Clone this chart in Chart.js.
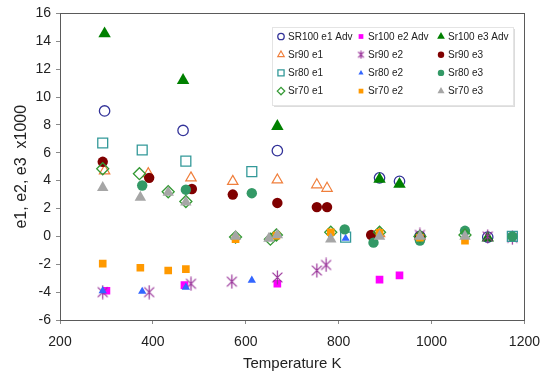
<!DOCTYPE html>
<html>
<head>
<meta charset="utf-8">
<script src="https://cdn.jsdelivr.net/npm/chart.js@4.4.1/dist/chart.umd.min.js"></script>
<style>
  html, body { margin: 0; padding: 0; background: #fff; }
  #wrap { width: 550px; height: 380px; }
</style>
</head>
<body>
<div id="wrap"><canvas id="chart" width="550" height="380"></canvas></div>
<script>
// Series labels (legend is 4 rows x 3 columns)
const seriesNames = [
  'SR100 e1 Adv', 'Sr100 e2 Adv', 'Sr100 e3 Adv',
  'Sr90 e1', 'Sr90 e2', 'Sr90 e3',
  'Sr80 e1', 'Sr80 e2', 'Sr80 e3',
  'Sr70 e1', 'Sr70 e2', 'Sr70 e3'
];

// Temperatures (K) and strain values (x1000)
const sr100e1T = [296, 465, 668, 888, 931, 975, 1121];
const sr100e1V = [9.0, 7.6, 6.15, 4.2, 3.95, 0.0, -0.05];
const sr100e2T = [300, 468, 668, 888, 931];
const sr100e2V = [-3.9, -3.5, -3.4, -3.1, -2.8];
const sr100e3T = [296, 465, 668, 888, 931, 1121];
const sr100e3V = [14.55, 11.2, 7.9, 4.1, 3.75, -0.1];

const sr90e1T = [296, 390, 482, 572, 668, 753, 775, 888, 975];
const sr90e1V = [4.7, 4.5, 4.2, 3.95, 4.05, 3.7, 3.45, 0.2, 0.0];
const sr90e2T = [292, 392, 482, 570, 668, 753, 773, 975, 1121, 1174];
const sr90e2V = [-4.0, -4.0, -3.4, -3.25, -2.95, -2.45, -2.05, 0.1, 0.0, -0.1];
const sr90e3T = [292, 392, 484, 572, 668, 753, 775, 870, 975];
const sr90e3V = [5.35, 4.2, 3.4, 3.0, 2.4, 2.1, 2.1, 0.1, 0.0];

const sr80e1T = [292, 377, 471, 613, 815, 1174];
const sr80e1V = [6.7, 6.2, 5.4, 4.65, -0.05, 0.0];
const sr80e2T = [292, 377, 471, 613, 815];
const sr80e2V = [-3.9, -3.95, -3.65, -3.15, -0.15];
const sr80e3T = [377, 471, 613, 813, 875, 975, 1072, 1174];
const sr80e3V = [3.65, 3.35, 3.1, 0.5, -0.45, -0.3, 0.4, 0.0];

const sr70e1T = [292, 371, 433, 471, 578, 653, 666, 783, 888, 975, 1072];
const sr70e1V = [4.85, 4.5, 3.2, 2.5, -0.05, -0.2, 0.1, 0.3, 0.3, 0.0, 0.1];
const sr70e2T = [292, 373, 433, 471, 578, 666, 783, 888, 975, 1072];
const sr70e2V = [-1.95, -2.25, -2.45, -2.35, -0.2, 0.05, 0.3, 0.25, -0.1, -0.3];
const sr70e3T = [292, 373, 433, 471, 578, 650, 668, 783, 888, 975, 1072];
const sr70e3V = [3.5, 2.8, 3.15, 2.45, 0.0, -0.15, 0.1, -0.2, 0.0, 0.0, 0.0];

const seriesT = [sr100e1T, sr100e2T, sr100e3T, sr90e1T, sr90e2T, sr90e3T,
                 sr80e1T, sr80e2T, sr80e3T, sr70e1T, sr70e2T, sr70e3T];
const seriesV = [sr100e1V, sr100e2V, sr100e3V, sr90e1V, sr90e2V, sr90e3V,
                 sr80e1V, sr80e2V, sr80e3V, sr70e1V, sr70e2V, sr70e3V];

// Axis ranges
const xMin = 200, xMax = 1200, xStep = 200;
const yMin = -6, yMax = 16, yStep = 2;

// asterisk marker (Excel-like "*")
function makeAsterisk(color, size) {
  const c = document.createElement('canvas');
  c.width = size; c.height = size;
  const g = c.getContext('2d');
  g.strokeStyle = color;
  g.lineWidth = 1.2;
  const m = size / 2, r = size / 2 - 0.5;
  g.beginPath();
  [Math.PI / 2, Math.PI / 4, -Math.PI / 4].forEach(a => {
    g.moveTo(m + r * Math.cos(a), m + r * Math.sin(a));
    g.lineTo(m - r * Math.cos(a), m - r * Math.sin(a));
  });
  g.stroke();
  return c;
}

// marker look per series
const NONE = 'rgba(0,0,0,0)';
const styles = [
  { pointStyle: 'circle',   radius: 5.2, border: '#333399', fill: NONE,      bw: 1.3 },
  { pointStyle: 'rect',     radius: 5.4, border: '#FF00FF', fill: '#FF00FF', bw: 0 },
  { pointStyle: 'triangle', radius: 7.2, border: '#008000', fill: '#008000', bw: 0 },
  { pointStyle: 'triangle', radius: 6,   border: '#F07F3C', fill: NONE,      bw: 1.2 },
  { pointStyle: makeAsterisk('#993399', 15), radius: 7, border: '#993399', fill: '#993399', bw: 0, legendImg: makeAsterisk('#993399', 9) },
  { pointStyle: 'circle',   radius: 5.2, border: '#800000', fill: '#800000', bw: 0 },
  { pointStyle: 'rect',     radius: 7,   border: '#339999', fill: NONE,      bw: 1.3 },
  { pointStyle: 'triangle', radius: 4.8, border: '#3366FF', fill: '#3366FF', bw: 0 },
  { pointStyle: 'circle',   radius: 5.2, border: '#339966', fill: '#339966', bw: 0 },
  { pointStyle: 'rectRot',  radius: 6,   border: '#339933', fill: NONE,      bw: 1.3 },
  { pointStyle: 'rect',     radius: 5.4, border: '#FF9900', fill: '#FF9900', bw: 0 },
  { pointStyle: 'triangle', radius: 6.6, border: '#A6A6A6', fill: '#A6A6A6', bw: 0 }
];

const datasets = seriesNames.map((name, i) => ({
  label: name,
  data: seriesT[i].map((t, k) => ({ x: t, y: seriesV[i][k] })),
  pointStyle: styles[i].pointStyle,
  pointRadius: styles[i].radius,
  pointBorderColor: styles[i].border,
  pointBackgroundColor: styles[i].fill,
  pointBorderWidth: styles[i].bw,
  borderColor: styles[i].border,
  backgroundColor: styles[i].fill,
  showLine: false,
  order: seriesNames.length - i  // later series on top, like Excel
}));

// frame round the plot area
const frame = {
  id: 'frame',
  afterDatasetsDraw(chart) {
    const { ctx, chartArea: a } = chart;
    ctx.save();
    ctx.strokeStyle = '#5a5a5a';
    ctx.lineWidth = 1;
    ctx.strokeRect(Math.round(a.left) + 0.5, Math.round(a.top) + 0.5,
                   Math.round(a.right - a.left), Math.round(a.bottom - a.top));
    ctx.restore();
  }
};

// 3-column boxed legend
const gridLegend = {
  id: 'gridLegend',
  afterDraw(chart) {
    const ctx = chart.ctx;
    const box = { l: 272, t: 27, r: 513, b: 105 };
    ctx.save();
    ctx.fillStyle = '#dcdcdc';
    ctx.fillRect(box.l + 2, box.t + 2, box.r - box.l, box.b - box.t);
    ctx.fillStyle = '#fff';
    ctx.fillRect(box.l, box.t, box.r - box.l, box.b - box.t);
    ctx.strokeStyle = '#e4e4e4';
    ctx.lineWidth = 1;
    ctx.strokeRect(box.l + 0.5, box.t + 0.5, box.r - box.l, box.b - box.t);

    ctx.font = '10px Arial, "Liberation Sans", sans-serif';
    ctx.textBaseline = 'middle';
    ctx.textAlign = 'left';
    chart.data.datasets.forEach((ds, i) => {
      const row = Math.floor(i / 3), col = i % 3;
      const mx = 281 + col * 80, my = 36.5 + row * 18.2;
      const st = styles[i];
      ctx.fillStyle = st.fill;
      ctx.strokeStyle = st.border;
      ctx.lineWidth = st.bw;
      Chart.helpers.drawPoint(ctx, {
        pointStyle: st.legendImg || st.pointStyle,
        radius: st.radius * 0.62,
        borderWidth: st.bw,
        rotation: 0
      }, mx, my);
      ctx.fillStyle = '#222';
      ctx.fillText(ds.label, mx + 7, my + 0.5);
    });
    ctx.restore();
  }
};

const tickFont = { family: 'Arial, "Liberation Sans", sans-serif', size: 14 };
const titleFont = { family: 'Arial, "Liberation Sans", sans-serif', size: 16 };
const plainTick = v => String(v);

new Chart(document.getElementById('chart'), {
  type: 'scatter',
  data: { datasets },
  options: {
    responsive: false,
    animation: false,
    layout: { padding: { top: 13, right: 22, left: 0, bottom: 0 } },
    plugins: { legend: { display: false }, tooltip: { enabled: false } },
    scales: {
      x: {
        type: 'linear', min: xMin, max: xMax,
        ticks: { stepSize: xStep, font: tickFont, color: '#222', padding: 10, callback: plainTick },
        grid: { drawOnChartArea: false, drawTicks: true, tickLength: 4, color: '#8a8a8a' },
        border: { color: '#5a5a5a' },
        title: { display: true, text: 'Temperature K', font: { ...titleFont, size: 15 }, color: '#222',
                 padding: { top: 0, bottom: 7 } },
        afterFit: s => { s.height = 60; }
      },
      y: {
        type: 'linear', min: yMin, max: yMax,
        ticks: { stepSize: yStep, font: tickFont, color: '#222', padding: 5, callback: plainTick },
        grid: { drawOnChartArea: false, drawTicks: true, tickLength: 4, color: '#8a8a8a' },
        border: { color: '#5a5a5a' },
        title: { display: true, text: 'e1, e2, e3  x1000', font: titleFont, color: '#222',
                 padding: { top: 12, bottom: 0 } },
        afterFit: s => { s.width = 60; }
      }
    }
  },
  plugins: [frame, gridLegend]
});
</script>
</body>
</html>
